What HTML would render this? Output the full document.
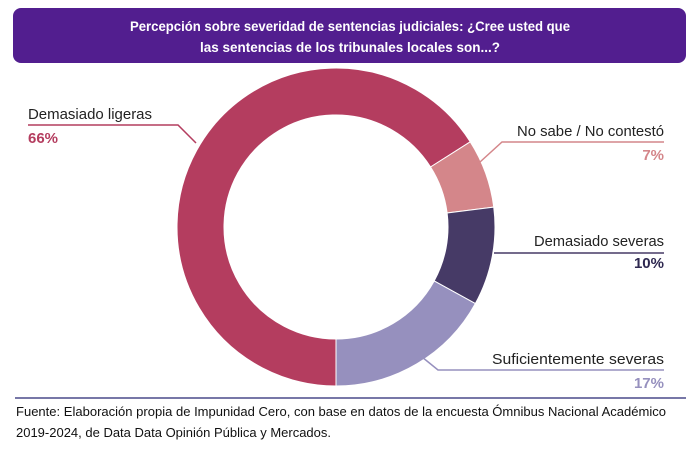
<!DOCTYPE html>
<html><head><meta charset="utf-8"><style>
html,body{margin:0;padding:0;background:#fff;}
svg{display:block;}
text{font-family:"Liberation Sans",sans-serif;}
</style></head><body>
<svg width="696" height="449" viewBox="0 0 696 449" xmlns="http://www.w3.org/2000/svg">
<rect x="13" y="8" width="673" height="55" rx="8" fill="#521e8f"/>
<text x="350" y="31" fill="#fff" font-size="13.5" font-weight="bold" text-anchor="middle" textLength="440" lengthAdjust="spacingAndGlyphs">Percepción sobre severidad de sentencias judiciales: ¿Cree usted que</text>
<text x="350" y="52" fill="#fff" font-size="13.5" font-weight="bold" text-anchor="middle" textLength="300" lengthAdjust="spacingAndGlyphs">las sentencias de los tribunales locales son...?</text>
<g transform="translate(336,227)" stroke="#fff" stroke-width="1">
<path id="s1" fill="#b43d5f"/>
<path id="s2" fill="#d4868a"/>
<path id="s3" fill="#463a66"/>
<path id="s4" fill="#9690be"/>
</g>
<g fill="none" stroke-width="1.5">
<polyline points="28,125 178,125 196,143" stroke="#b43d5f"/>
<polyline points="664,142 502,142 480,162" stroke="#d4868a"/>
<polyline points="664,253 494,253" stroke="#463a66"/>
<polyline points="664,370 438,370 422,357" stroke="#9690be"/>
</g>
<g font-size="15">
<text x="28" y="119" fill="#222" textLength="124" lengthAdjust="spacingAndGlyphs">Demasiado ligeras</text>
<text x="28" y="143" fill="#b43d5f" font-weight="bold">66%</text>
<text x="664" y="136" fill="#222" text-anchor="end" textLength="147" lengthAdjust="spacingAndGlyphs">No sabe / No contestó</text>
<text x="664" y="160" fill="#d4868a" font-weight="bold" text-anchor="end">7%</text>
<text x="664" y="246" fill="#222" text-anchor="end" textLength="130" lengthAdjust="spacingAndGlyphs">Demasiado severas</text>
<text x="664" y="268" fill="#2e2850" font-weight="bold" text-anchor="end">10%</text>
<text x="664" y="364" fill="#222" text-anchor="end" textLength="172" lengthAdjust="spacingAndGlyphs">Suficientemente severas</text>
<text x="664" y="388" fill="#9690be" font-weight="bold" text-anchor="end">17%</text>
</g>
<line x1="15" y1="398" x2="686" y2="398" stroke="#4a4a8a" stroke-width="1.5"/>
<text x="16" y="416" font-size="13" fill="#111" textLength="650" lengthAdjust="spacingAndGlyphs">Fuente: Elaboración propia de Impunidad Cero, con base en datos de la encuesta Ómnibus Nacional Académico</text>
<text x="16" y="437" font-size="13" fill="#111" textLength="315" lengthAdjust="spacingAndGlyphs">2019-2024, de Data Data Opinión Pública y Mercados.</text>
</svg>
<script>
function arc(a0,a1,R,r){
 const p=(a,rad)=>[(rad*Math.sin(a*Math.PI/180)).toFixed(2),(-rad*Math.cos(a*Math.PI/180)).toFixed(2)];
 const l=(a1-a0)>180?1:0;
 const [x0,y0]=p(a0,R),[x1,y1]=p(a1,R),[x2,y2]=p(a1,r),[x3,y3]=p(a0,r);
 return `M${x0},${y0}A${R},${R} 0 ${l} 1 ${x1},${y1}L${x2},${y2}A${r},${r} 0 ${l} 0 ${x3},${y3}Z`;
}
const R=159,r=112;
document.getElementById('s1').setAttribute('d',arc(180,417.6,R,r));
document.getElementById('s2').setAttribute('d',arc(57.6,82.8,R,r));
document.getElementById('s3').setAttribute('d',arc(82.8,118.8,R,r));
document.getElementById('s4').setAttribute('d',arc(118.8,180,R,r));
</script>
</body></html>
